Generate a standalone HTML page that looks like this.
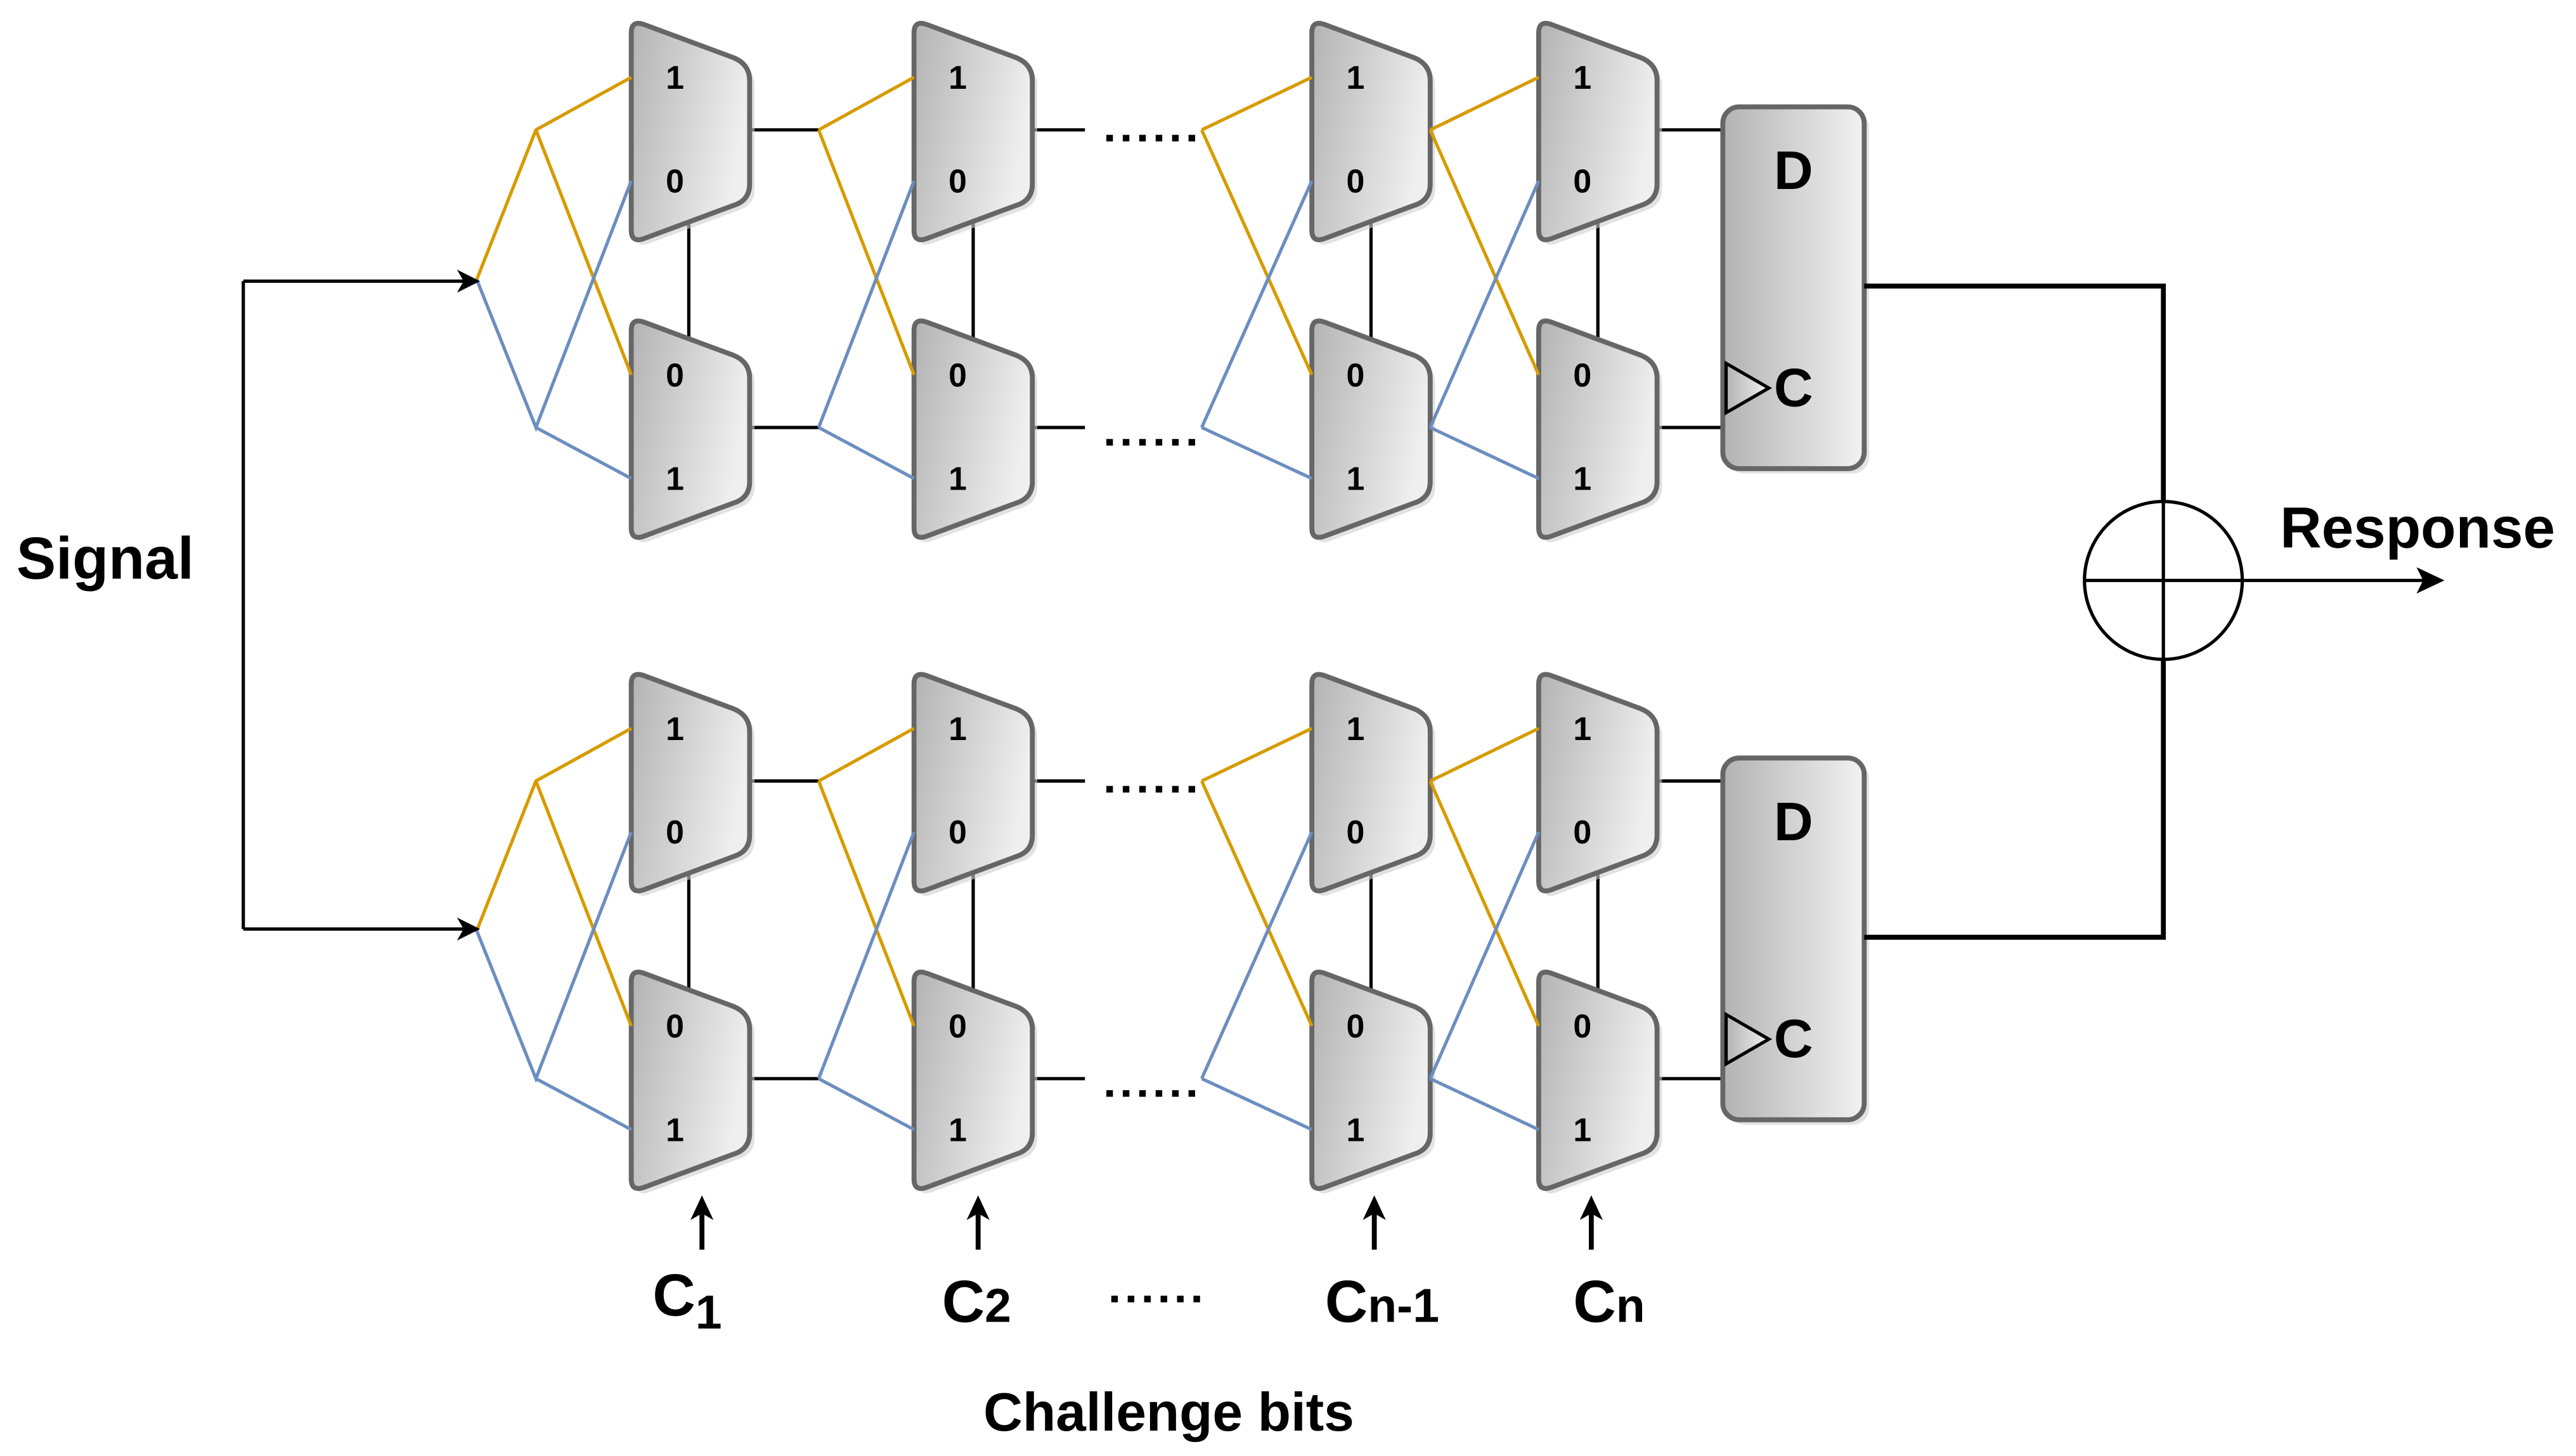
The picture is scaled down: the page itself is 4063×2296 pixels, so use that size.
<!DOCTYPE html>
<html><head><meta charset="utf-8"><style>
html,body{margin:0;padding:0;background:#fff;}
svg{display:block;}
text{font-family:"Liberation Sans",Arial,sans-serif;font-weight:bold;fill:#000;}
</style></head><body>
<svg width="4063" height="2296" viewBox="0 0 1567 885.5" preserveAspectRatio="none" xmlns="http://www.w3.org/2000/svg">
<defs>
<linearGradient id="g" x1="0" y1="0" x2="1" y2="0.3">
<stop offset="0" stop-color="#b3b3b3"/><stop offset="1" stop-color="#efefef"/></linearGradient>
<linearGradient id="g2" x1="0" y1="0" x2="1" y2="0">
<stop offset="0" stop-color="#b3b3b3"/><stop offset="1" stop-color="#f2f2f2"/></linearGradient>
<path id="mux" d="M0,8 Q0,0 8,3 L62,23 Q72,27 72,37 L72,100 Q72,110 62,113 L8,133 Q0,136 0,128 Z"/>
<g id="m">
<use href="#mux" x="3" y="3" fill="#cfcfcf" opacity="0.6"/>
<use href="#mux" fill="url(#g)" stroke="#666" stroke-width="3"/>
</g>
<g id="grp">
<g stroke="#000" stroke-width="2" fill="none">
<path d="M419,130V210 M592,130V210 M834,130V210 M972,130V210"/>
<path d="M456,79H498 M456,260H498 M628,79H660 M628,260H660 M1008,79H1048 M1008,260H1048"/>
</g>
<use href="#m" x="384" y="12"/><use href="#m" x="384" y="193"/>
<use href="#m" x="556" y="12"/><use href="#m" x="556" y="193"/>
<use href="#m" x="798" y="12"/><use href="#m" x="798" y="193"/>
<use href="#m" x="936" y="12"/><use href="#m" x="936" y="193"/>
<g stroke="#d79b00" stroke-width="2" fill="none">
<path d="M290,170L326,79L384,47 M326,79L384,228"/>
<path d="M498,79L556,47 M498,79L556,228"/>
<path d="M731,79L798,47 M731,79L798,228"/>
<path d="M870,79L936,47 M870,79L936,228"/>
</g>
<g stroke="#6c8ebf" stroke-width="2" fill="none">
<path d="M290,170L326,260L384,110 M326,260L384,291"/>
<path d="M498,260L556,110 M498,260L556,291"/>
<path d="M731,260L798,110 M731,260L798,291"/>
<path d="M870,260L936,110 M870,260L936,291"/>
</g>
<rect x="1051" y="68" width="86" height="220" rx="10" fill="#cfcfcf" opacity="0.6"/>
<rect x="1048" y="65" width="86" height="220" rx="10" fill="url(#g2)" stroke="#666" stroke-width="3"/>
<path d="M1050,221L1076,236L1050,251Z" fill="url(#g2)" stroke="#000" stroke-width="2"/>
<path d="M673,84H730 M673,269H730" stroke="#000" stroke-width="4" stroke-dasharray="4,6"/>
</g>
</defs>
<use href="#grp"/>
<use href="#grp" y="396"/>
<g font-size="20">
<text x="405" y="54">1</text><text x="405" y="117">0</text><text x="405" y="235">0</text><text x="405" y="298">1</text>
<text x="577" y="54">1</text><text x="577" y="117">0</text><text x="577" y="235">0</text><text x="577" y="298">1</text>
<text x="819" y="54">1</text><text x="819" y="117">0</text><text x="819" y="235">0</text><text x="819" y="298">1</text>
<text x="957" y="54">1</text><text x="957" y="117">0</text><text x="957" y="235">0</text><text x="957" y="298">1</text>
<text x="405" y="450">1</text><text x="405" y="513">0</text><text x="405" y="631">0</text><text x="405" y="694">1</text>
<text x="577" y="450">1</text><text x="577" y="513">0</text><text x="577" y="631">0</text><text x="577" y="694">1</text>
<text x="819" y="450">1</text><text x="819" y="513">0</text><text x="819" y="631">0</text><text x="819" y="694">1</text>
<text x="957" y="450">1</text><text x="957" y="513">0</text><text x="957" y="631">0</text><text x="957" y="694">1</text>
</g>
<g font-size="33" text-anchor="middle">
<text x="1091" y="115">D</text><text x="1091" y="247">C</text>
<text x="1091" y="511">D</text><text x="1091" y="643">C</text>
</g>
<g stroke="#000" stroke-width="2" fill="none">
<path d="M148,171H288 M148,171V565 M148,565H288"/>
<path d="M1134,174H1316V305 M1134,570H1316V401" stroke-width="3"/>
<circle cx="1316" cy="353" r="48"/>
<path d="M1268,353H1480 M1316,305V401"/>
<path d="M427,760V732 M595,760V732 M836,760V732 M968,760V732" stroke-width="3"/>
<path d="M676,790H730" stroke-width="4" stroke-dasharray="4,6"/>
</g>
<g fill="#000">
<path d="M292,171L278,164L282,171L278,178Z"/>
<path d="M292,565L278,558L282,565L278,572Z"/>
<path d="M1487,353L1470,345L1474,353L1470,361Z"/>
<path d="M427,727L420,742L427,738L434,742Z"/>
<path d="M595,727L588,742L595,738L602,742Z"/>
<path d="M836,727L829,742L836,738L843,742Z"/>
<path d="M968,727L961,742L968,738L975,742Z"/>
</g>
<text x="10" y="352" font-size="36">Signal</text>
<text x="1387" y="333" font-size="35">Response</text>
<text x="397" y="800" font-size="36">C<tspan font-size="29" dy="8">1</tspan></text>
<text x="573" y="804" font-size="36">C<tspan font-size="29">2</tspan></text>
<text x="806" y="804" font-size="36">C<tspan font-size="29">n-1</tspan></text>
<text x="957" y="804" font-size="36">C<tspan font-size="29">n</tspan></text>
<text x="711" y="870" font-size="33" text-anchor="middle">Challenge bits</text>
</svg>
</body></html>
